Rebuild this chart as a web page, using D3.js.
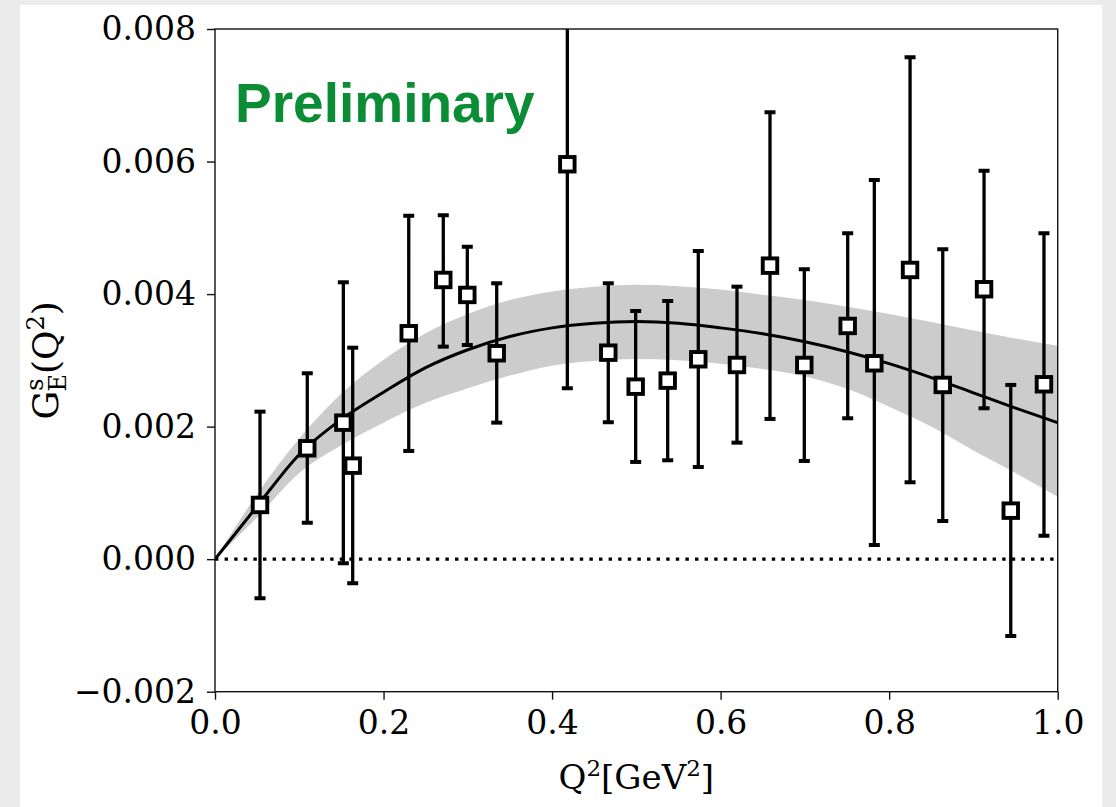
<!DOCTYPE html>
<html>
<head>
<meta charset="utf-8">
<script src="https://cdn.jsdelivr.net/npm/d3@7"></script>
<style>
  html, body { margin: 0; padding: 0; background: #ebebeb; }
  svg { display: block; }
</style>
</head>
<body>
<svg id="chart" width="1116" height="807"></svg>
<script>
// ---- data (values in units of 1e-3 for G_E^s) ----
const q2 = [0.0534,0.1095,0.1523,0.1634,0.2299,0.2709,0.2994,0.3343,0.4181,0.4667,0.4992,0.5372,0.5735,0.6194,0.6586,0.6993,0.7508,0.7824,0.8248,0.8636,0.9126,0.9443,0.9837];
const gE = [0.818,1.673,2.060,1.411,3.409,4.213,3.987,3.107,5.959,3.116,2.603,2.694,3.016,2.930,4.429,2.930,3.519,2.956,4.364,2.629,4.073,0.732,2.639];
const gEHigh = [2.226,2.805,4.178,3.191,5.183,5.189,4.716,4.163,9.340,4.163,3.745,3.896,4.651,4.112,6.744,4.375,4.918,5.722,7.574,4.676,5.862,2.629,4.918];
const gELow = [-0.590,0.551,-0.062,-0.364,1.633,3.207,3.232,2.060,2.579,2.066,1.467,1.492,1.391,1.758,2.116,1.482,2.126,0.214,1.160,0.576,2.277,-1.159,0.355];

const fitQ2 = [0,0.05,0.1,0.15,0.2,0.25,0.3,0.35,0.4,0.45,0.5,0.55,0.6,0.65,0.7,0.75,0.8,0.85,0.9,0.95,1.0];
const fitCentral = [0,0.80,1.58,2.11,2.52,2.89,3.16,3.36,3.49,3.56,3.585,3.56,3.49,3.40,3.28,3.13,2.95,2.74,2.51,2.28,2.06];
const fitUpper = [0,0.98,1.82,2.50,3.01,3.41,3.70,3.91,4.04,4.11,4.14,4.12,4.07,3.99,3.91,3.81,3.70,3.58,3.45,3.33,3.22];
const fitLower = [0,0.63,1.30,1.72,2.06,2.36,2.58,2.77,2.92,2.99,3.02,3.00,2.95,2.87,2.76,2.57,2.30,2.00,1.64,1.30,0.94];

const xTicks = [0.0,0.2,0.4,0.6,0.8,1.0];
const yTicks = [-0.002,0.000,0.002,0.004,0.006,0.008];
const SCALE = 1e-3;

// ---- layout ----
const svg = d3.select("#chart");
svg.append("rect").attr("x",20).attr("y",5).attr("width",1082).attr("height",802).attr("fill","#ffffff");

const x = d3.scaleLinear().domain([0,1]).range([215,1057.7]);
const y = d3.scaleLinear().domain([-0.002,0.008]).range([691.7,29]);

const defs = svg.append("defs");
defs.append("clipPath").attr("id","plotclip").append("rect")
  .attr("x",x(0)).attr("y",y(0.008)).attr("width",x(1)-x(0)).attr("height",y(-0.002)-y(0.008));

const plot = svg.append("g").attr("clip-path","url(#plotclip)");

// band
const fit = fitQ2.map((q,i)=>({q, c:fitCentral[i]*SCALE, u:fitUpper[i]*SCALE, l:fitLower[i]*SCALE}));
plot.append("path").datum(fit)
  .attr("d", d3.area().x(d=>x(d.q)).y0(d=>y(d.l)).y1(d=>y(d.u)).curve(d3.curveMonotoneX))
  .attr("fill","#cccccc").attr("stroke","none");

// zero dotted line
plot.append("line").attr("x1",x(0)).attr("x2",x(1)).attr("y1",y(0)).attr("y2",y(0))
  .attr("stroke","#000").attr("stroke-width",3.4).attr("stroke-dasharray","3.4,6.2");

// central curve
plot.append("path").datum(fit)
  .attr("d", d3.line().x(d=>x(d.q)).y(d=>y(d.c)).curve(d3.curveMonotoneX))
  .attr("fill","none").attr("stroke","#000").attr("stroke-width",3);

// error bars
const pts = q2.map((q,i)=>({q, v:gE[i]*SCALE, hi:gEHigh[i]*SCALE, lo:gELow[i]*SCALE}));
const eb = plot.append("g").selectAll("g").data(pts).join("g");
eb.append("line").attr("x1",d=>x(d.q)).attr("x2",d=>x(d.q)).attr("y1",d=>y(d.hi)).attr("y2",d=>y(d.lo))
  .attr("stroke","#000").attr("stroke-width",3.3);
eb.append("line").attr("x1",d=>x(d.q)-5.5).attr("x2",d=>x(d.q)+5.5).attr("y1",d=>y(d.hi)).attr("y2",d=>y(d.hi))
  .attr("stroke","#000").attr("stroke-width",4);
eb.append("line").attr("x1",d=>x(d.q)-5.5).attr("x2",d=>x(d.q)+5.5).attr("y1",d=>y(d.lo)).attr("y2",d=>y(d.lo))
  .attr("stroke","#000").attr("stroke-width",4);
// markers
const ms = 14.5;
plot.append("g").selectAll("rect").data(pts).join("rect")
  .attr("x",d=>x(d.q)-ms/2).attr("y",d=>y(d.v)-ms/2).attr("width",ms).attr("height",ms)
  .attr("fill","#fff").attr("stroke","#000").attr("stroke-width",3.9);

// frame
svg.append("rect").attr("x",x(0)).attr("y",y(0.008)).attr("width",x(1)-x(0)).attr("height",y(-0.002)-y(0.008))
  .attr("fill","none").attr("stroke","#111").attr("stroke-width",1.4);

// axes
const fontFam = "'DejaVu Serif', serif";
const xAxis = svg.append("g").attr("transform",`translate(0,${y(-0.002)})`)
  .call(d3.axisBottom(x).tickValues(xTicks).tickFormat(d3.format(".1f")).tickSize(8).tickSizeOuter(0).tickPadding(11));
const yAxis = svg.append("g").attr("transform",`translate(${x(0)},0)`)
  .call(d3.axisLeft(y).tickValues(yTicks).tickFormat(d3.format(".3f")).tickSize(8).tickSizeOuter(0).tickPadding(11));
[xAxis,yAxis].forEach(a=>{
  a.select(".domain").remove();
  a.selectAll(".tick line").attr("stroke","#111").attr("stroke-width",1.4);
  a.selectAll(".tick text").attr("fill","#000").style("font-family",fontFam).style("font-size","33px");
});

// axis labels
const xl = svg.append("text").attr("x",(x(0)+x(1))/2).attr("y",789).attr("text-anchor","middle")
  .style("font-family",fontFam).style("font-size","34px").attr("fill","#000");
xl.append("tspan").text("Q");
xl.append("tspan").text("2").attr("dy",-13).style("font-size","23px");
xl.append("tspan").text("[GeV").attr("dy",13);
xl.append("tspan").text("2").attr("dy",-13).style("font-size","23px");
xl.append("tspan").text("]").attr("dy",13);

const yl = svg.append("text").attr("transform",`translate(58,${(y(-0.002)+y(0.008))/2}) rotate(-90)`)
  .attr("text-anchor","middle").style("font-family",fontFam).style("font-size","36px").attr("fill","#000");
yl.append("tspan").text("G");
yl.append("tspan").text("s").attr("dy",-15).style("font-size","24px");
yl.append("tspan").text("E").attr("dx",-13).attr("dy",23).style("font-size","24px");
yl.append("tspan").text("(Q").attr("dy",-8);
yl.append("tspan").text("2").attr("dy",-14).style("font-size","24px");
yl.append("tspan").text(")").attr("dy",14);

// Preliminary
svg.append("text").attr("x",235).attr("y",122).text("Preliminary")
  .style("font-family","'Liberation Sans', Arial, sans-serif").style("font-weight","bold")
  .style("font-size","55px").attr("fill","#0b8d36");
</script>
</body>
</html>
